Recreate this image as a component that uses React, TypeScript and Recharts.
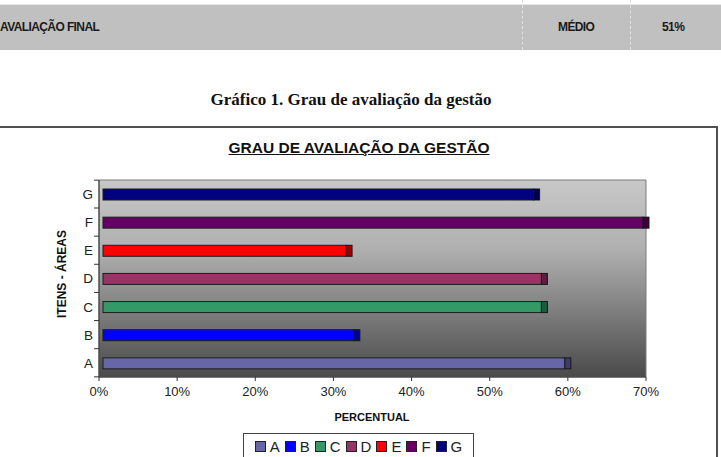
import { BarChart, Bar, Cell, XAxis, YAxis, CartesianGrid, ReferenceArea, Legend } from "recharts";

const categories = ["A", "B", "C", "D", "E", "F", "G"];
const percentValues = [60, 33, 57, 57, 32, 70, 56];
const barColors = ["#6666a8", "#0000ff", "#339966", "#993366", "#ff0000", "#660066", "#000080"];
const xTicks = [0, 10, 20, 30, 40, 50, 60, 70];

const chartData = categories.map((cat, i) => ({ cat, value: percentValues[i] }));

const FONT = "Arial, 'Liberation Sans', sans-serif";
const PLOT_TOP = 180;
const PLOT_BOTTOM = 375;
const BAND = (PLOT_BOTTOM - PLOT_TOP) / categories.length;

// Excel-style 3D bar: front face plus a darker end cap
const Bar3D = (props: any) => {
  const { x, y, width, height, fill } = props;
  const end = x + width;
  const front = end - 3;
  return (
    <g>
      <rect x={x + 4} y={y} width={Math.max(front - x - 4, 0)} height={height} fill={fill} stroke="#1c1c1c" strokeWidth={1} />
      <rect x={front} y={y} width={6} height={height} fill={fill} stroke="#1c1c1c" strokeWidth={1} />
      <rect x={front} y={y} width={6} height={height} fill="#000" fillOpacity={0.4} />
    </g>
  );
};

const YTick = (props: any) => {
  const { x, y, payload, index } = props;
  return (
    <g>
      <text x={x + 2} y={y} dy="0.36em" textAnchor="end" fontSize={13.5} fill="#222" fontFamily={FONT}>
        {payload.value}
      </text>
      <line x1={x + 3} x2={x + 8} y1={y + BAND / 2} y2={y + BAND / 2} stroke="#333" />
      {index === categories.length - 1 && (
        <line x1={x + 3} x2={x + 8} y1={y - BAND / 2} y2={y - BAND / 2} stroke="#333" />
      )}
    </g>
  );
};

const LegendBox = () => (
  <div
    style={{
      border: "1px solid #444",
      width: 231,
      height: 30,
      display: "flex",
      alignItems: "flex-start",
      justifyContent: "center",
      paddingTop: 4,
      boxSizing: "border-box",
      fontFamily: FONT,
      fontSize: 15,
      color: "#222",
    }}
  >
    {categories.map((c, i) => (
      <span key={c} style={{ display: "flex", alignItems: "center", marginRight: i < categories.length - 1 ? 5 : 0 }}>
        <span style={{ width: 9, height: 9, background: barColors[i], border: "1px solid #222", marginRight: 4 }} />
        <span>{c}</span>
      </span>
    ))}
  </div>
);

const rowText = {
  position: "absolute" as const,
  top: 20,
  fontFamily: "'Liberation Sans Narrow', " + FONT,
  fontWeight: "bold" as const,
  fontSize: 12,
  color: "#1a1a1a",
  letterSpacing: -0.6,
};

export default function App() {
  return (
    <div style={{ position: "absolute", left: 0, top: 0, width: 721, height: 457, overflow: "hidden", background: "#fff" }}>
      {/* table row above the chart */}
      <div style={{ position: "absolute", left: 0, top: 5, width: 721, height: 45, background: "#c0c0c0" }} />
      <div style={{ position: "absolute", left: 522, top: 0, height: 50, borderLeft: "1px dashed #e2e2e2" }} />
      <div style={{ position: "absolute", left: 630, top: 0, height: 50, borderLeft: "1px dashed #e2e2e2" }} />
      <div style={{ position: "absolute", left: 0, top: 4, width: 721, borderTop: "1px solid #e6e6e6" }} />
      <div style={{ ...rowText, left: 0 }}>AVALIAÇÃO FINAL</div>
      <div style={{ ...rowText, left: 558 }}>MÉDIO</div>
      <div style={{ ...rowText, left: 662 }}>51%</div>

      {/* caption */}
      <div
        style={{
          position: "absolute", left: 0, top: 90, width: 702, textAlign: "center",
          fontFamily: "'Liberation Serif', 'Times New Roman', serif", fontWeight: "bold", fontSize: 17, color: "#111",
        }}
      >
        Gráfico 1. Grau de avaliação da gestão
      </div>

      {/* chart frame */}
      <div
        style={{
          position: "absolute", left: -4, top: 126, width: 722, height: 340,
          borderTop: "2px solid #505050", borderRight: "2px solid #505050", boxSizing: "border-box",
        }}
      />
      <div
        style={{
          position: "absolute", left: 0, top: 139, width: 718, textAlign: "center",
          fontFamily: FONT, fontWeight: "bold", fontSize: 15.5, color: "#111", textDecoration: "underline",
        }}
      >
        GRAU DE AVALIAÇÃO DA GESTÃO
      </div>

      <div style={{ position: "absolute", left: 0, top: 0 }}>
        <BarChart
          width={721}
          height={457}
          data={chartData}
          layout="vertical"
          margin={{ top: PLOT_TOP, right: 75, bottom: 10, left: 69 }}
          barSize={11}
        >
          <defs>
            <linearGradient id="plotBg" x1="0" y1="0" x2="0" y2="1">
              <stop offset="0%" stopColor="#c8c8c8" />
              <stop offset="35%" stopColor="#b0b0b0" />
              <stop offset="100%" stopColor="#4a4a4a" />
            </linearGradient>
          </defs>
          <CartesianGrid horizontal={false} vertical={false} fill="url(#plotBg)" fillOpacity={1} />
          <XAxis
            type="number"
            domain={[0, 70]}
            ticks={xTicks}
            tickFormatter={(v: number) => `${v}%`}
            height={40}
            axisLine={{ stroke: "#333" }}
            tickLine={{ stroke: "#333" }}
            tickSize={4}
            tickMargin={6}
            tick={{ fill: "#222", fontSize: 13, fontFamily: FONT }}
            label={{
              content: () => (
                <text x={372} y={421} textAnchor="middle" fontFamily={FONT} fontWeight="bold" fontSize={11} fill="#111">
                  PERCENTUAL
                </text>
              ),
            }}
          />
          <YAxis
            type="category"
            dataKey="cat"
            reversed
            width={30}
            axisLine={{ stroke: "#333" }}
            tickLine={false}
            tick={<YTick />}
            label={{
              content: () => (
                <text
                  x={66}
                  y={274}
                  transform="rotate(-90 66 274)"
                  textAnchor="middle"
                  fontFamily={FONT}
                  fontWeight="bold"
                  fontSize={12}
                  fill="#111"
                >
                  ITENS - ÁREAS
                </text>
              ),
            }}
          />
          <ReferenceArea x1={0} x2={70} fill="none" stroke="#7a7a7a" strokeWidth={1} ifOverflow="visible" />
          <Bar dataKey="value" shape={<Bar3D />} isAnimationActive={false}>
            {chartData.map((d, i) => (
              <Cell key={d.cat} fill={barColors[i]} />
            ))}
          </Bar>
          <Legend
            content={() => <LegendBox />}
            wrapperStyle={{ position: "absolute", left: 243, top: 433, width: 231, height: 30 }}
          />
        </BarChart>
      </div>
    </div>
  );
}
